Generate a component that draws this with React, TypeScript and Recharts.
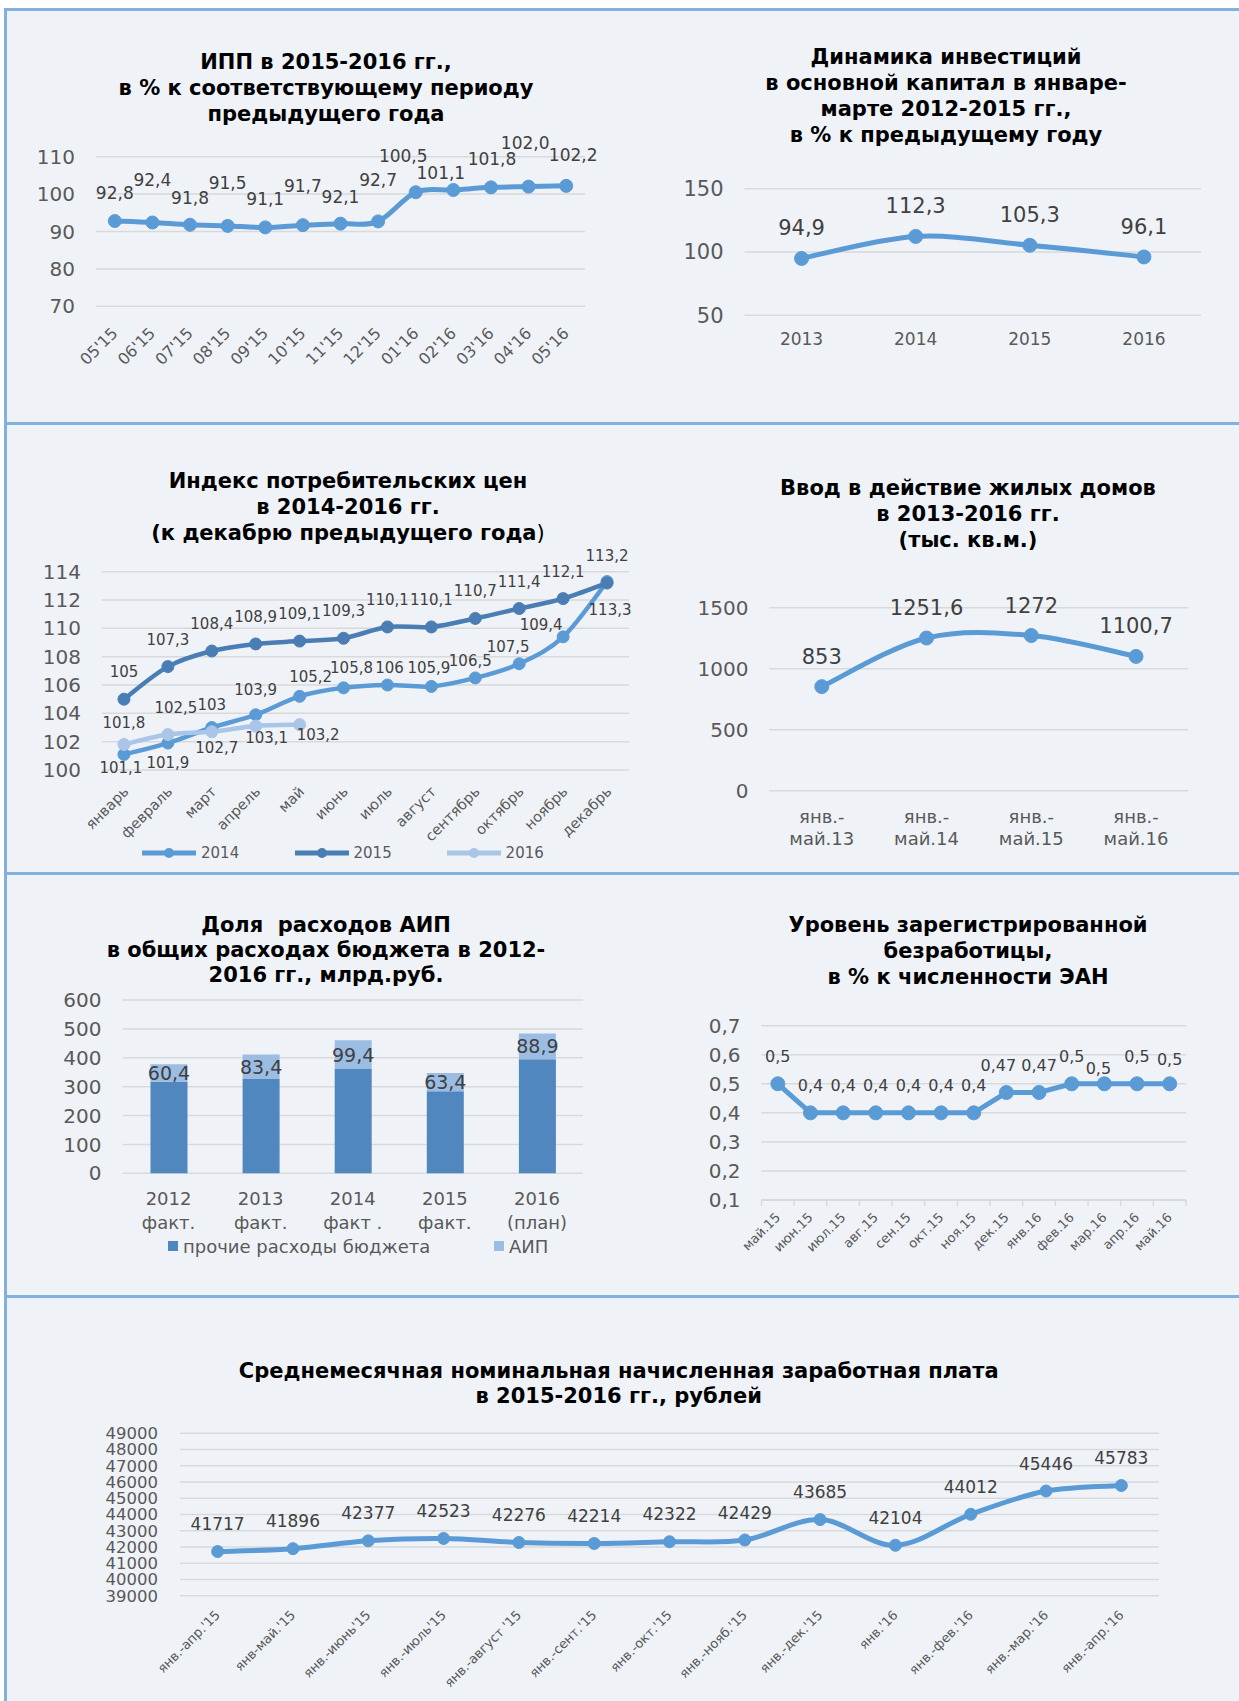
import React from 'react';
import { LineChart, Line, BarChart, Bar, XAxis, YAxis, CartesianGrid, LabelList } from 'recharts';

// ---------- DATA ----------
const ippCategories = ["05'15", "06'15", "07'15", "08'15", "09'15", "10'15", "11'15", "12'15", "01'16", "02'16", "03'16", "04'16", "05'16"];
const ippValues = [92.8, 92.4, 91.8, 91.5, 91.1, 91.7, 92.1, 92.7, 100.5, 101.1, 101.8, 102.0, 102.2];
const ippTicks = [70, 80, 90, 100, 110];

const investYears = ['2013', '2014', '2015', '2016'];
const investValues = [94.9, 112.3, 105.3, 96.1];
const investTicks = [50, 100, 150];

const cpiMonths = ['январь', 'февраль', 'март', 'апрель', 'май', 'июнь', 'июль', 'август', 'сентябрь', 'октябрь', 'ноябрь', 'декабрь'];
const cpi2014 = [101.1, 101.9, 103, 103.9, 105.2, 105.8, 106, 105.9, 106.5, 107.5, 109.4, 113.3];
const cpi2015 = [105, 107.3, 108.4, 108.9, 109.1, 109.3, 110.1, 110.1, 110.7, 111.4, 112.1, 113.2];
const cpi2016 = [101.8, 102.5, 102.7, 103.1, 103.2];
const cpiTicks = [100, 102, 104, 106, 108, 110, 112, 114];
const cpiSeriesNames = ['2014', '2015', '2016'];

const housingPeriods = ['янв.-май.13', 'янв.-май.14', 'янв.-май.15', 'янв.-май.16'];
const housingValues = [853, 1251.6, 1272, 1100.7];
const housingTicks = [0, 500, 1000, 1500];

const budgetYears = ['2012 факт.', '2013 факт.', '2014 факт .', '2015 факт.', '2016 (план)'];
const budgetOther = [317, 328, 361, 284, 395];
const budgetAip = [60.4, 83.4, 99.4, 63.4, 88.9];
const budgetTicks = [0, 100, 200, 300, 400, 500, 600];
const budgetSeriesNames = ['прочие расходы бюджета', 'АИП'];

const unempMonths = ['май.15', 'июн.15', 'июл.15', 'авг.15', 'сен.15', 'окт.15', 'ноя.15', 'дек.15', 'янв.16', 'фев.16', 'мар.16', 'апр.16', 'май.16'];
const unempValues = [0.5, 0.4, 0.4, 0.4, 0.4, 0.4, 0.4, 0.47, 0.47, 0.5, 0.5, 0.5, 0.5];
const unempTicks = [0.1, 0.2, 0.3, 0.4, 0.5, 0.6, 0.7];

const salaryPeriods = ["янв.-апр.'15", "янв-май.'15", "янв.-июнь'15", "янв.-июль'15", "янв.-август '15", "янв.-сент.'15", "янв.-окт.'15", "янв.-нояб.'15", "янв.-дек.'15", "янв.'16", "янв.-фев.'16", "янв.-мар.'16", "янв.-апр.'16"];
const salaryValues = [41717, 41896, 42377, 42523, 42276, 42214, 42322, 42429, 43685, 42104, 44012, 45446, 45783];
const salaryTicks = [39000, 40000, 41000, 42000, 43000, 44000, 45000, 46000, 47000, 48000, 49000];

// ---------- STYLE ----------
const FONT = '"DejaVu Sans", Verdana, sans-serif';
const TICK = '#595959';
const LBL = '#404040';
const GRID = '#d9d9d9';
const BLUE = '#5b9bd5';
const DARK = '#4a7db3';
const LIGHT = '#a9c5e8';
const BAR_DARK = '#4f87be';
const BAR_LIGHT = '#9bbde4';
const BORDER = '#80b1df';
const PANEL = '#eff3f8';

// label offsets (presentation only)
const ippDy = [-27.6, -42.4, -27, -43, -28, -39.3, -26.8, -41.3, -36, -17.2, -28, -43.2, -30.8];
const ippDx = [0, 0, 0, 0, 0, 0, 0, 0, -12.5, -12.5, 1, -3.4, 7];
const cpi14Dy = [14, 20, -22.5, -24.7, -19.6, -19.5, -16.7, -18, -17, -17, -11.7, 28.4];
const cpi14Dx = [-3, 0, 0, 0, 11, 8, 2, -2.5, -5, -11, -22, 3];
const cpi16Dy = [-21.8, -27, 16, 12.3, 10];
const cpi16Dx = [0, 8, 5, 11, 18.5];
const unempDy = [-27.3, -27, -27, -27, -27, -27, -27, -27, -27, -27, -15.7, -27, -24.7];
const unempDx = [0, 0, 0, 0, 0, 0, 0, -8, 0, 0, -6, 0, 0];

const comma = (v: number) => String(v).replace('.', ',');
const comma1 = (v: number) => v.toFixed(1).replace('.', ',');

// Excel-like smooth curve (Catmull-Rom as cubic Bezier)
const excelSmooth: any = (context: any) => {
  let pts: number[][] = [];
  return {
    areaStart() {},
    areaEnd() {},
    lineStart() { pts = []; },
    point(x: number, y: number) { pts.push([+x, +y]); },
    lineEnd() {
      const n = pts.length;
      if (n === 0) return;
      context.moveTo(pts[0][0], pts[0][1]);
      for (let i = 0; i < n - 1; i++) {
        const p0 = pts[i > 0 ? i - 1 : i];
        const p1 = pts[i];
        const p2 = pts[i + 1];
        const p3 = pts[i + 2 < n ? i + 2 : i + 1];
        context.bezierCurveTo(
          p1[0] + (p2[0] - p0[0]) / 6, p1[1] + (p2[1] - p0[1]) / 6,
          p2[0] - (p3[0] - p1[0]) / 6, p2[1] - (p3[1] - p1[1]) / 6,
          p2[0], p2[1]
        );
      }
    },
  };
};

const pick = (a: number[] | number, i: number) => (Array.isArray(a) ? (a[i] ?? 0) : a);

const mkLabel = (fmt: (v: number) => string, dys: number[] | number, dxs: number[] | number, size: number, color = LBL) =>
  (props: any) => {
    const { value, index } = props;
    const x = props.x ?? props.viewBox?.x;
    const y = props.y ?? props.viewBox?.y;
    if (value == null || x == null || y == null) return null;
    return (
      <text x={x + pick(dxs, index)} y={y + pick(dys, index)} textAnchor="middle" dominantBaseline="central"
        fontSize={size} fill={color} fontFamily={FONT}>{fmt(value)}</text>
    );
  };

const barLabel = (size: number) => (props: any) => {
  const vb = props.viewBox || props;
  const x = vb.x + vb.width / 2;
  const y = vb.y + vb.height / 2;
  return (
    <text x={x} y={y} textAnchor="middle" dominantBaseline="central" fontSize={size} fill={LBL} fontFamily={FONT}>
      {comma(props.value)}
    </text>
  );
};

const rotTick = (size: number, dx: number, dy: number, tickMarks?: { bw: number; n: number }) => (props: any) => {
  const { x, y, payload, index } = props;
  const ax = x + dx;
  const ay = y + dy;
  return (
    <g>
      {tickMarks && <line x1={x - tickMarks.bw / 2} y1={y} x2={x - tickMarks.bw / 2} y2={y + 6} stroke={GRID} strokeWidth={1.5} />}
      {tickMarks && index === tickMarks.n - 1 && <line x1={x + tickMarks.bw / 2} y1={y} x2={x + tickMarks.bw / 2} y2={y + 6} stroke={GRID} strokeWidth={1.5} />}
      <text x={ax} y={ay} transform={`rotate(-45 ${ax} ${ay})`} textAnchor="end" dominantBaseline="central"
        fontSize={size} fill={TICK} fontFamily={FONT}>{payload.value}</text>
    </g>
  );
};

const flatTick = (size: number, dy: number) => (props: any) => {
  const { x, y, payload } = props;
  return (
    <text x={x} y={y + dy} textAnchor="middle" dominantBaseline="central" fontSize={size} fill={TICK} fontFamily={FONT}>
      {payload.value}
    </text>
  );
};

const twoLineTick = (size: number, dy1: number, dy2: number, splitter: (s: string) => string[]) => (props: any) => {
  const { x, y, payload } = props;
  const [a, b] = splitter(String(payload.value));
  return (
    <g>
      <text x={x} y={y + dy1} textAnchor="middle" dominantBaseline="central" fontSize={size} fill={TICK} fontFamily={FONT}>{a}</text>
      <text x={x} y={y + dy2} textAnchor="middle" dominantBaseline="central" fontSize={size} fill={TICK} fontFamily={FONT}>{b}</text>
    </g>
  );
};

const splitHousing = (s: string) => {
  const i = s.indexOf('-');
  return [s.slice(0, i + 1), s.slice(i + 1)];
};
const splitBudget = (s: string) => {
  const i = s.indexOf(' ');
  return [s.slice(0, i), s.slice(i + 1)];
};

const yTick = (size: number) => ({ fontSize: size, fill: TICK, fontFamily: FONT });

const Title = ({ cx, top, lines, lh = 26, size = 21, w = 640 }: any) => (
  <div style={{
    position: 'absolute', left: cx - w / 2, width: w, top, textAlign: 'center', fontWeight: 'bold',
    fontSize: size, lineHeight: lh + 'px', fontFamily: FONT, color: '#000', whiteSpace: 'pre',
  }}>
    {lines.map((l: any, i: number) => <div key={i}>{l}</div>)}
  </div>
);

const Abs = ({ left, top, children }: any) => (
  <div style={{ position: 'absolute', left, top }}>{children}</div>
);

export default function App() {
  const ippData = ippCategories.map((c, i) => ({ c, v: ippValues[i] }));
  const investData = investYears.map((c, i) => ({ c, v: investValues[i] }));
  const cpiData = cpiMonths.map((c, i) => ({ c, a: cpi2014[i], b: cpi2015[i], d: cpi2016[i] }));
  const housingData = housingPeriods.map((c, i) => ({ c, v: housingValues[i] }));
  const budgetData = budgetYears.map((c, i) => ({ c, o: budgetOther[i], a: budgetAip[i] }));
  const unempData = unempMonths.map((c, i) => ({ c, v: unempValues[i] }));
  const salaryData = salaryPeriods.map((c, i) => ({ c, v: salaryValues[i] }));

  const legendLine = (color: string) => (
    <svg width={54} height={12} style={{ display: 'block' }}>
      <line x1={0} y1={6} x2={54} y2={6} stroke={color} strokeWidth={5} />
      <circle cx={27} cy={6} r={5} fill={color} />
    </svg>
  );

  return (
    <div style={{ position: 'absolute', left: 0, top: 0, width: 1239, height: 1701, background: '#fff', overflow: 'hidden', fontFamily: FONT }}>
      <div style={{ position: 'absolute', left: 4, top: 8, width: 1300, height: 1800, background: PANEL, borderTop: `3px solid ${BORDER}`, borderLeft: `3px solid ${BORDER}` }} />
      <div style={{ position: 'absolute', left: 4, top: 422, width: 1300, height: 3, background: BORDER }} />
      <div style={{ position: 'absolute', left: 4, top: 872, width: 1300, height: 3, background: BORDER }} />
      <div style={{ position: 'absolute', left: 4, top: 1295, width: 1300, height: 3, background: BORDER }} />

      {/* Chart 1 */}
      <Title cx={326} top={48.7} lines={['ИПП в 2015-2016 гг.,', 'в % к соответствующему периоду', 'предыдущего года']} />
      <Abs left={0} top={130}>
        <LineChart width={620} height={280} data={ippData} margin={{ top: 26.7, right: 35, left: 0, bottom: 0 }}>
          <CartesianGrid vertical={false} stroke={GRID} strokeWidth={1.5} />
          <XAxis dataKey="c" interval={0} tickSize={0} tickMargin={0} axisLine={false} height={103.7}
            padding={{ left: 18.8, right: 18.8 }} tick={rotTick(16, 0, 24)} />
          <YAxis domain={[70, 110]} ticks={ippTicks} interval={0} width={96} axisLine={false} tickSize={0} tickMargin={21} tick={yTick(20)} />
          <Line dataKey="v" stroke={BLUE} strokeWidth={5} type={excelSmooth} dot={{ r: 6.5, fill: BLUE, stroke: BLUE, strokeWidth: 1 }} isAnimationActive={false}>
            <LabelList dataKey="v" content={mkLabel(comma1, ippDy, ippDx, 17)} />
          </Line>
        </LineChart>
      </Abs>

      {/* Chart 2 */}
      <Title cx={946} top={43.7} lines={['Динамика инвестиций', 'в основной капитал в январе-', 'марте 2012-2015 гг.,', 'в % к предыдущему году']} />
      <Abs left={620} top={170}>
        <LineChart width={619} height={220} data={investData} margin={{ top: 18.7, right: 38, left: 0, bottom: 0 }}>
          <CartesianGrid vertical={false} stroke={GRID} strokeWidth={1.5} />
          <XAxis dataKey="c" interval={0} tickSize={0} tickMargin={0} axisLine={false} height={74.7}
            padding={{ left: 57.05, right: 57.05 }} tick={flatTick(17, 24)} />
          <YAxis domain={[50, 150]} ticks={investTicks} interval={0} width={124.5} axisLine={false} tickSize={0} tickMargin={21} tick={yTick(21)} />
          <Line dataKey="v" stroke={BLUE} strokeWidth={5} type={excelSmooth} dot={{ r: 7, fill: BLUE, stroke: BLUE, strokeWidth: 1 }} isAnimationActive={false}>
            <LabelList dataKey="v" content={mkLabel(comma1, -30, 0, 21)} />
          </Line>
        </LineChart>
      </Abs>

      {/* Chart 3 */}
      <Title cx={348} top={468} lines={['Индекс потребительских цен', 'в 2014-2016 гг.', <span>(к декабрю предыдущего года<span style={{ fontWeight: 'normal' }}>)</span></span>]} />
      <Abs left={0} top={540}>
        <LineChart width={650} height={330} data={cpiData} margin={{ top: 31.7, right: 21, left: 0, bottom: 0 }}>
          <CartesianGrid vertical={false} stroke={GRID} strokeWidth={1.5} />
          <XAxis dataKey="c" interval={0} tickSize={0} tickMargin={0} axisLine={false} height={100}
            padding={{ left: 21.96, right: 21.96 }} tick={rotTick(14.5, 2, 19)} />
          <YAxis domain={[100, 114]} ticks={cpiTicks} interval={0} width={102} axisLine={false} tickSize={0} tickMargin={21} tick={yTick(20)} />
          <Line dataKey="a" name={cpiSeriesNames[0]} stroke={BLUE} strokeWidth={4.5} type={excelSmooth} dot={{ r: 6, fill: BLUE, stroke: BLUE, strokeWidth: 1 }} isAnimationActive={false}>
            <LabelList dataKey="a" content={mkLabel(comma, cpi14Dy, cpi14Dx, 15)} />
          </Line>
          <Line dataKey="b" name={cpiSeriesNames[1]} stroke={DARK} strokeWidth={4.5} type={excelSmooth} dot={{ r: 6, fill: DARK, stroke: DARK, strokeWidth: 1 }} isAnimationActive={false}>
            <LabelList dataKey="b" content={mkLabel(comma, -27, 0, 15)} />
          </Line>
          <Line dataKey="d" name={cpiSeriesNames[2]} stroke={LIGHT} strokeWidth={4.5} type={excelSmooth} dot={{ r: 6, fill: LIGHT, stroke: LIGHT, strokeWidth: 1 }} isAnimationActive={false}>
            <LabelList dataKey="d" content={mkLabel(comma, cpi16Dy, cpi16Dx, 15)} />
          </Line>
        </LineChart>
      </Abs>
      {[BLUE, DARK, LIGHT].map((col, i) => (
        <div key={i} style={{ position: 'absolute', left: [142, 294.5, 446.6][i], top: 843, display: 'flex', alignItems: 'center', height: 20 }}>
          {legendLine(col)}
          <span style={{ marginLeft: 5, fontSize: 15, color: TICK, fontFamily: FONT }}>{cpiSeriesNames[i]}</span>
        </div>
      ))}

      {/* Chart 4 */}
      <Title cx={968} top={475.3} lines={['Ввод в действие жилых домов', 'в 2013-2016 гг.', '(тыс. кв.м.)']} />
      <Abs left={620} top={580}>
        <LineChart width={619} height={270} data={housingData} margin={{ top: 27.7, right: 50.6, left: 0, bottom: 0 }}>
          <CartesianGrid vertical={false} stroke={GRID} strokeWidth={1.5} />
          <XAxis dataKey="c" interval={0} tickSize={0} tickMargin={0} axisLine={false} height={59.3}
            padding={{ left: 52.375, right: 52.375 }} tick={twoLineTick(18, 26, 47.6, splitHousing)} />
          <YAxis domain={[0, 1500]} ticks={housingTicks} interval={0} width={149.4} axisLine={false} tickSize={0} tickMargin={21} tick={yTick(20)} />
          <Line dataKey="v" stroke={BLUE} strokeWidth={5} type={excelSmooth} dot={{ r: 7, fill: BLUE, stroke: BLUE, strokeWidth: 1 }} isAnimationActive={false}>
            <LabelList dataKey="v" content={mkLabel(comma, -30, 0, 21)} />
          </Line>
        </LineChart>
      </Abs>

      {/* Chart 5 */}
      <Title cx={326} top={912.5} lh={25} lines={['Доля  расходов АИП', 'в общих расходах бюджета в 2012-', '2016 гг., млрд.руб.']} />
      <Abs left={0} top={980}>
        <BarChart width={620} height={260} data={budgetData} margin={{ top: 20, right: 37, left: 0, bottom: 0 }}>
          <CartesianGrid vertical={false} stroke={GRID} strokeWidth={1.5} />
          <XAxis dataKey="c" interval={0} tickSize={0} tickMargin={0} axisLine={false} height={66.7}
            tick={twoLineTick(18, 25, 49.4, splitBudget)} />
          <YAxis domain={[0, 600]} ticks={budgetTicks} interval={0} width={122.5} axisLine={false} tickSize={0} tickMargin={21} tick={yTick(20)} />
          <Bar dataKey="o" name={budgetSeriesNames[0]} stackId="s" fill={BAR_DARK} barSize={37} isAnimationActive={false} />
          <Bar dataKey="a" name={budgetSeriesNames[1]} stackId="s" fill={BAR_LIGHT} barSize={37} isAnimationActive={false}>
            <LabelList dataKey="a" content={barLabel(19)} />
          </Bar>
        </BarChart>
      </Abs>
      {[BAR_DARK, BAR_LIGHT].map((col, i) => (
        <div key={i} style={{ position: 'absolute', left: [168, 494][i], top: 1235, display: 'flex', alignItems: 'center', height: 22 }}>
          <div style={{ width: 10, height: 10, background: col }} />
          <span style={{ marginLeft: 5, fontSize: 18, color: TICK, fontFamily: FONT }}>{budgetSeriesNames[i]}</span>
        </div>
      ))}

      {/* Chart 6 */}
      <Title cx={968} top={912} lines={['Уровень зарегистрированной', 'безработицы,', 'в % к численности ЭАН']} />
      <Abs left={620} top={1010}>
        <LineChart width={619} height={270} data={unempData} margin={{ top: 15.7, right: 53, left: 0, bottom: 0 }}>
          <CartesianGrid vertical={false} stroke={GRID} strokeWidth={1.5} />
          <XAxis dataKey="c" interval={0} tickSize={0} tickMargin={0} axisLine={{ stroke: GRID, strokeWidth: 1.5 }} height={80}
            padding={{ left: 16.33, right: 16.33 }} tick={rotTick(13, 0, 15, { bw: 32.65, n: unempMonths.length })} />
          <YAxis domain={[0.1, 0.7]} ticks={unempTicks} interval={0} width={141.5} axisLine={false} tickSize={0} tickMargin={21}
            tick={yTick(20)} tickFormatter={(v: number) => comma1(v)} />
          <Line dataKey="v" stroke={BLUE} strokeWidth={5} type="linear" dot={{ r: 7, fill: BLUE, stroke: BLUE, strokeWidth: 1 }} isAnimationActive={false}>
            <LabelList dataKey="v" content={mkLabel(comma, unempDy, unempDx, 16)} />
          </Line>
        </LineChart>
      </Abs>

      {/* Chart 7 */}
      <Title cx={618.7} top={1359} lh={25} w={1100} lines={['Среднемесячная номинальная начисленная заработная плата', 'в 2015-2016 гг., рублей']} />
      <Abs left={0} top={1410}>
        <LineChart width={1239} height={291} data={salaryData} margin={{ top: 23.3, right: 80, left: 0, bottom: 0 }}>
          <CartesianGrid vertical={false} stroke={GRID} strokeWidth={1.5} />
          <XAxis dataKey="c" interval={0} tickSize={0} tickMargin={0} axisLine={false} height={105.3}
            padding={{ left: 37.65, right: 37.65 }} tick={rotTick(13, 0, 17)} />
          <YAxis domain={[39000, 49000]} ticks={salaryTicks} interval={0} width={180} axisLine={false} tickSize={0} tickMargin={22} tick={yTick(16.5)} />
          <Line dataKey="v" stroke={BLUE} strokeWidth={5} type={excelSmooth} dot={{ r: 6, fill: BLUE, stroke: BLUE, strokeWidth: 1 }} isAnimationActive={false}>
            <LabelList dataKey="v" content={mkLabel(comma, -27.5, 0, 17)} />
          </Line>
        </LineChart>
      </Abs>
    </div>
  );
}
